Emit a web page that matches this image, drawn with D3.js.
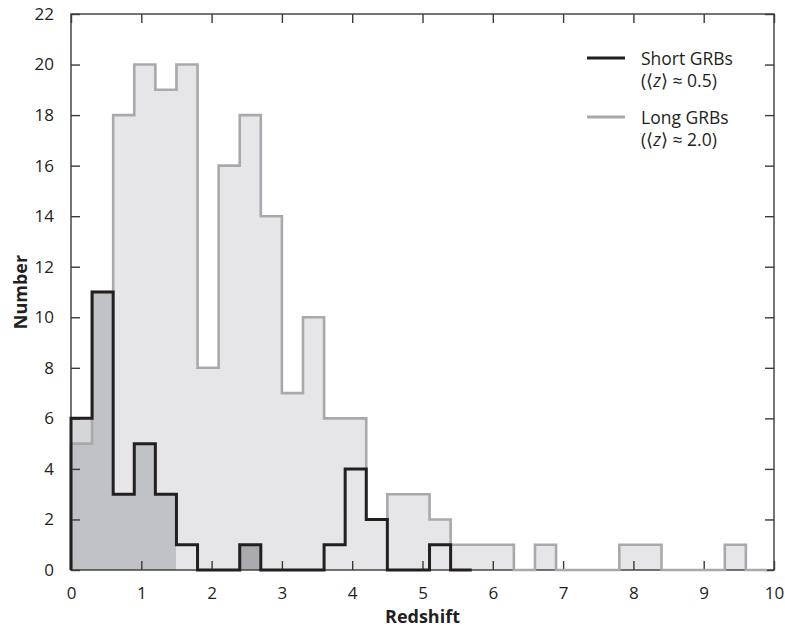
<!DOCTYPE html>
<html>
<head>
<meta charset="utf-8">
<script src="https://cdn.jsdelivr.net/npm/d3@7"></script>
<style>
  body { margin: 0; background: #fff; }
  svg { display: block; }
  text { font-family: "Open Sans", "Noto Sans", sans-serif; fill: #231f20; }
</style>
</head>
<body>
<svg id="chart" width="785" height="630"></svg>
<script>
// ---------- DATA ----------
const binWidth = 0.3;
// counts per redshift bin starting at 0 (0-0.3, 0.3-0.6, ...)
const shortCounts = [6, 11, 3, 5, 3, 1, 0, 0, 1, 0, 0, 0, 1, 4, 2, 0, 0, 1, 0];
const longCounts  = [5, 11, 18, 20, 19, 20, 8, 16, 18, 14, 7, 10, 6, 6, 2, 3, 3, 2, 1, 1, 1, 0, 1, 0, 0, 0, 1, 1, 0, 0, 0, 1, 0];
const xTicks = [0, 1, 2, 3, 4, 5, 6, 7, 8, 9, 10];
const yTicks = [0, 2, 4, 6, 8, 10, 12, 14, 16, 18, 20, 22];
const legendLabels = ["Short GRBs", "Long GRBs"];
const legendMeans = ["0.5", "2.0"];

// ---------- LAYOUT / STYLE ----------
const svg = d3.select("#chart");
const x = d3.scaleLinear().domain([0, 10]).range([71, 774]);
const y = d3.scaleLinear().domain([0, 22]).range([570, 14]);
const frameColor = "#3a3a3a";
const longFill = "#e6e6e8", longStroke = "#a7a9ac";
const shortStroke = "#231f20";
// shading applied to the short-GRB bins (index ranges)
function shortOverlapFill(i) {
  if (i <= 4) return "#c1c2c6";
  if (i === 8) return "#a9aaad";
  return null;
}
const shortOnlyFill = "#d5d6d8";

function bins(counts) {
  return counts.map((v, i) => ({ i, x0: i * binWidth, x1: (i + 1) * binWidth, v }));
}
const longBins = bins(longCounts);
const shortBins = bins(shortCounts);

function stepPoints(b) {
  const pts = [[b[0].x0, 0]];
  b.forEach(d => { pts.push([d.x0, d.v]); pts.push([d.x1, d.v]); });
  pts.push([b[b.length - 1].x1, 0]);
  return pts;
}
const line = d3.line().x(d => x(d[0])).y(d => y(d[1]));

// long fill (single closed step path, no seams)
svg.append("path").attr("d", line(stepPoints(longBins)) + "Z")
  .attr("fill", longFill).attr("stroke", "none");

const fills = svg.append("g").attr("shape-rendering", "crispEdges");
// short-only excess
fills.append("g").selectAll("rect")
  .data(shortBins.filter(d => d.v > (longCounts[d.i] || 0)))
  .join("rect")
  .attr("x", d => x(d.x0)).attr("width", d => x(d.x1) - x(d.x0))
  .attr("y", d => y(d.v)).attr("height", d => y(longCounts[d.i] || 0) - y(d.v))
  .attr("fill", shortOnlyFill);

// short overlap shading
fills.append("g").selectAll("rect")
  .data(shortBins.filter(d => d.v > 0 && shortOverlapFill(d.i)))
  .join("rect")
  .attr("x", d => x(d.x0)).attr("width", d => x(d.x1) - x(d.x0))
  .attr("y", d => y(Math.min(d.v, longCounts[d.i]))).attr("height", d => y(0) - y(Math.min(d.v, longCounts[d.i])))
  .attr("fill", d => shortOverlapFill(d.i));

// frame
svg.append("rect")
  .attr("x", x(0)).attr("y", y(22))
  .attr("width", x(10) - x(0)).attr("height", y(0) - y(22))
  .attr("fill", "none").attr("stroke", frameColor).attr("stroke-width", 1.4);

// axes with inward ticks
const tickLen = 9;
const axB = svg.append("g").attr("transform", `translate(0,${y(0)})`)
  .call(d3.axisBottom(x).tickValues(xTicks).tickSizeInner(-tickLen).tickSizeOuter(0).tickPadding(tickLen + 8));
const axT = svg.append("g").attr("transform", `translate(0,${y(22)})`)
  .call(d3.axisTop(x).tickValues(xTicks).tickSizeInner(-tickLen).tickSizeOuter(0).tickFormat(""));
const axL = svg.append("g").attr("transform", `translate(${x(0)},0)`)
  .call(d3.axisLeft(y).tickValues(yTicks).tickSizeInner(-tickLen).tickSizeOuter(0).tickPadding(tickLen + 8));
const axR = svg.append("g").attr("transform", `translate(${x(10)},0)`)
  .call(d3.axisRight(y).tickValues(yTicks).tickSizeInner(-tickLen).tickSizeOuter(0).tickFormat(""));
[axB, axT, axL, axR].forEach(a => {
  a.select(".domain").remove();
  a.selectAll(".tick line").attr("stroke", frameColor).attr("stroke-width", 1.4);
  a.selectAll("text").attr("font-size", 17).attr("fill", "#231f20")
    .style("font-family", "'Open Sans', sans-serif");
});

// outlines
svg.append("path").attr("d", line(stepPoints(longBins)))
  .attr("fill", "none").attr("stroke", longStroke).attr("stroke-width", 2.6)
  .attr("stroke-linejoin", "miter");
svg.append("path").attr("d", line(stepPoints(shortBins)))
  .attr("fill", "none").attr("stroke", shortStroke).attr("stroke-width", 3)
  .attr("stroke-linejoin", "miter");

// axis titles
svg.append("text").attr("x", (x(0) + x(10)) / 2).attr("y", 623)
  .attr("text-anchor", "middle").attr("font-size", 18).attr("font-weight", "bold")
  .text("Redshift");
svg.append("text").attr("transform", `translate(27,${(y(0) + y(22)) / 2}) rotate(-90)`)
  .attr("text-anchor", "middle").attr("font-size", 18).attr("font-weight", "bold")
  .text("Number");

// legend
const legColors = [shortStroke, longStroke];
const legend = svg.append("g");
legendLabels.forEach((lab, k) => {
  const y0 = 58 + k * 59;
  legend.append("line").attr("x1", 587).attr("x2", 625).attr("y1", y0).attr("y2", y0)
    .attr("stroke", legColors[k]).attr("stroke-width", 3);
  legend.append("text").attr("x", 641).attr("y", y0 + 6.5).attr("font-size", 17.5).text(lab);
  const t = legend.append("text").attr("x", 641).attr("y", y0 + 29).attr("font-size", 17.5);
  t.append("tspan").text("(\u27E8");
  t.append("tspan").attr("font-style", "italic").text("z");
  t.append("tspan").text("\u27E9 \u2248 " + legendMeans[k] + ")");
});
</script>
</body>
</html>
